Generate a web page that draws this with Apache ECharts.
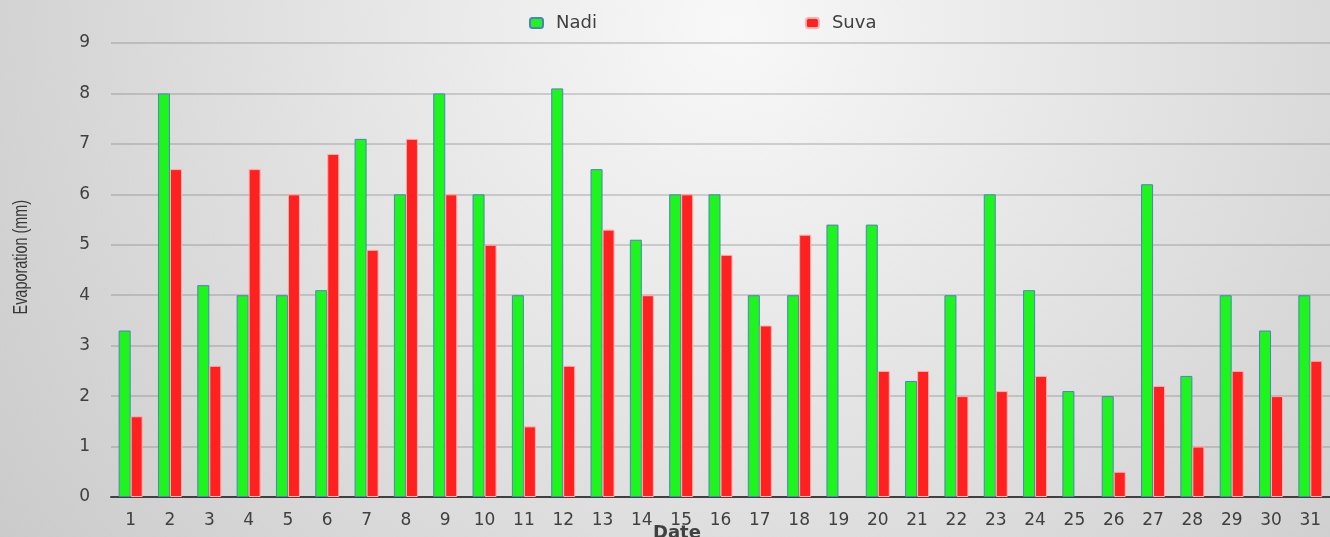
<html>
<head>
    <meta charset="utf-8">
    <title>Evaporation Nadi / Suva</title>
    <script src="https://cdn.jsdelivr.net/npm/echarts@6/dist/echarts.min.js"></script>
    <style>
        html, body { margin: 0; padding: 0; }
    </style>
</head>
<body>
    <div id="main" style="width: 1330px;height:537px;"></div>
    <script type="text/javascript">
        // 日期 1..31
        var dates = ['1', '2', '3', '4', '5', '6', '7', '8', '9', '10', '11', '12', '13', '14', '15', '16',
            '17', '18', '19', '20', '21', '22', '23', '24', '25', '26', '27', '28', '29', '30', '31'];
        var nadi = [3.3, 8.0, 4.2, 4.0, 4.0, 4.1, 7.1, 6.0, 8.0, 6.0, 4.0, 8.1, 6.5, 5.1, 6.0, 6.0,
            4.0, 4.0, 5.4, 5.4, 2.3, 4.0, 6.0, 4.1, 2.1, 2.0, 6.2, 2.4, 4.0, 3.3, 4.0];
        // 19 和 25 没有数据
        var suva = [1.6, 6.5, 2.6, 6.5, 6.0, 6.8, 4.9, 7.1, 6.0, 5.0, 1.4, 2.6, 5.3, 4.0, 6.0, 4.8,
            3.4, 5.2, null, 2.5, 2.5, 2.0, 2.1, 2.4, null, 0.5, 2.2, 1.0, 2.5, 2.0, 2.7];
        var yTicks = { min: 0, max: 9, step: 1 };

        var myChart = echarts.init(document.getElementById('main'));

        var option = {
            backgroundColor: {
                type: 'radial', x: 0.55, y: 0.05, r: 1.9,
                colorStops: [
                    { offset: 0, color: '#f8f8f8' },
                    { offset: 1, color: '#c4c4c4' }
                ]
            },
            grid: { left: 111, right: 0, top: 43, bottom: 40, outerBoundsMode: 'none' },
            legend: {
                left: 524,
                top: 9,
                itemWidth: 13,
                itemHeight: 10,
                itemGap: 208,
                textStyle: { fontFamily: 'DejaVu Sans', fontSize: 18, color: '#404040', padding: [0, 0, 0, 8] },
                data: ['Nadi', 'Suva']
            },
            graphic: [{
                type: 'text',
                left: 11,
                top: 200,
                rotation: Math.PI / 2,
                scaleX: 0.72,
                style: {
                    text: 'Evaporation (mm)',
                    fontFamily: 'Liberation Sans',
                    fontSize: 20,
                    fill: '#383838'
                }
            }, {
                // x 轴标题
                type: 'text',
                left: 653,
                top: 524,
                style: {
                    text: 'Date',
                    fontFamily: 'DejaVu Sans',
                    fontWeight: 'bold',
                    fontSize: 18,
                    fill: '#404040'
                }
            }],
            xAxis: {
                type: 'category',
                data: dates,
                axisLine: { lineStyle: { color: '#404040', width: 2 } },
                axisTick: { show: false },
                axisLabel: { fontFamily: 'DejaVu Sans', fontSize: 17, color: '#404040', margin: 15 }
            },
            yAxis: {
                type: 'value',
                min: yTicks.min,
                max: yTicks.max,
                interval: yTicks.step,
                axisLine: { show: false },
                axisTick: { show: false },
                axisLabel: { fontFamily: 'DejaVu Sans', fontSize: 17, color: '#404040', margin: 21 },
                splitLine: { lineStyle: { color: 'rgba(120,120,120,0.4)', width: 1.5 } }
            },
            series: [
                {
                    name: 'Nadi',
                    type: 'bar',
                    data: nadi,
                    barWidth: 12,
                    barGap: '0%',
                    itemStyle: { color: '#1ef51e', borderColor: '#4f81bd', borderWidth: 1 }
                },
                {
                    name: 'Suva',
                    type: 'bar',
                    data: suva,
                    barWidth: 12,
                    itemStyle: { color: '#ff2020', borderColor: '#ffb0b0', borderWidth: 1 }
                }
            ]
        };
        myChart.setOption(option);
    </script>
</body>
</html>
